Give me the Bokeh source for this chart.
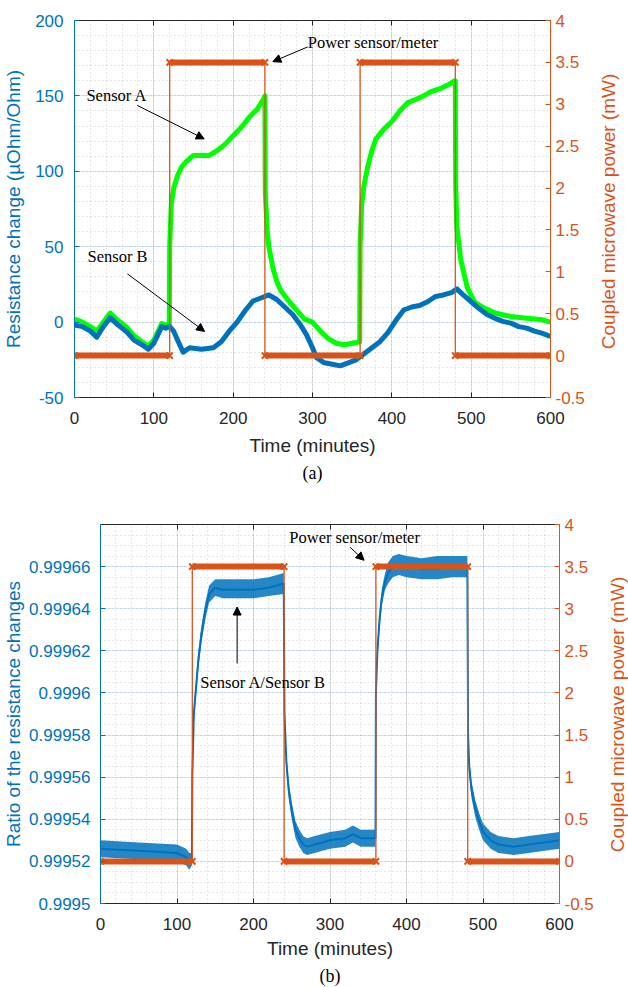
import math
from bokeh.plotting import figure
from bokeh.models import (Range1d, LinearAxis, SingleIntervalTicker, CustomJSTickFormatter,
                          Arrow, NormalHead, Label, Title, CustomLabelingPolicy)
from bokeh.core.properties import value
from bokeh.layouts import column, row
from bokeh.embed import file_html
from bokeh.resources import INLINE

# ---------------- data: panel (a) ----------------
t_b = [0, 10, 20, 28, 35, 45, 55, 65, 75, 85, 93, 100, 110, 115, 120, 125, 130, 137, 145, 160,
       175, 185, 195, 205, 215, 225, 235, 245, 255, 265, 275, 285, 292, 300, 305, 315, 325, 335,
       345, 355, 365, 375, 385, 395, 405, 415, 425, 435, 445, 455, 465, 475, 482, 490, 500, 510,
       520, 530, 540, 550, 560, 570, 580, 590, 600]
sensor_b = [-2, -3, -6, -10, -4, 3, -2, -6, -12, -15, -18, -14, -3, -4, -3, -6, -12, -20, -17, -18,
            -17, -13, -6, 0, 7.5, 14, 16, 18, 15, 10, 5, -2, -8, -17, -23.6, -27, -28, -29,
            -27, -25, -21, -17, -13, -7, 1, 8, 10, 11, 13.5, 17, 18, 19.5, 22, 18, 13.5, 9,
            5, 2.5, 0.5, -0.7, -3, -4, -6, -7.5, -9.5]

t_a = [0, 10, 20, 28, 35, 45, 55, 65, 75, 85, 93, 100, 110, 115, 119.5, 120, 122, 125, 130, 135,
       140, 150, 160, 170, 180, 190, 200, 210, 220, 230, 238, 240, 240.5, 243, 245, 250, 255, 260,
       270, 280, 290, 300, 310, 320, 330, 340, 350, 359.5, 360, 362, 365, 370, 375, 380, 390, 400,
       410, 420, 430, 440, 450, 460, 470, 478, 480, 480.5, 482, 487, 495, 504, 514, 530, 550, 570,
       590, 600]
sensor_a = [2, 0, -3, -6, -1, 6, 1, -3, -9, -13, -16, -12, -1, -2, -2, 50, 78, 88.6, 97.4, 102.8,
            106, 110.5, 110.5, 110.5, 113.8, 118, 123.6, 129, 135.6, 141, 147.6, 150, 85, 60, 50, 36, 27, 21,
            14, 8, 2, 0, -6, -11, -14, -15, -14, -13, 50, 78, 91, 104, 114, 121.5, 128, 133,
            140, 145.5, 147.6, 150, 153, 154.6, 157, 159.6, 160, 90, 63, 41, 23, 13.5, 10, 6, 3.7, 2.6,
            1.5, 0]

# coupled microwave power (mW), shared by both panels
t_p = [0, 120, 120, 240, 240, 360, 360, 480, 480, 600]
power = [0, 0, 3.5, 3.5, 0, 0, 3.5, 3.5, 0, 0]

# ---------------- data: panel (b) ----------------
t_r = [0, 50, 100, 112, 116, 119.5, 120, 122, 125, 128, 132, 137, 142, 150, 160, 180, 200, 220,
       239.5, 240.5, 243, 246, 250, 255, 260, 265, 270, 280, 290, 300, 320, 330, 340, 350, 359.5,
       360, 362, 365, 368, 372, 376, 382, 390, 400, 420, 440, 460, 479.5, 480.5, 482, 485, 490,
       495, 500, 510, 520, 540, 560, 580, 600]
ratio = [0.999526, 0.999525, 0.999524, 0.999522, 0.999520, 0.999521, 0.999560, 0.999590, 0.999603,
         0.999616, 0.999628, 0.999639, 0.999647, 0.999650, 0.999649, 0.999649, 0.999649, 0.999650,
         0.999652, 0.999590, 0.999567, 0.999554, 0.999544, 0.999535, 0.999531, 0.999528, 0.999527,
         0.999528, 0.999529, 0.999530, 0.999531, 0.999533, 0.999531, 0.999531, 0.999531,
         0.999600, 0.999620, 0.999636, 0.999646, 0.999653, 0.999657, 0.999660, 0.999661, 0.999660,
         0.999659, 0.999659, 0.999660, 0.999660, 0.999580, 0.999565, 0.999554, 0.999545,
         0.999539, 0.999534, 0.999530, 0.999528, 0.999527, 0.999528, 0.999529, 0.999530]
ratio_lo = [0.999522, 0.999521, 0.999520, 0.999518, 0.999516, 0.999518, 0.999555, 0.999586, 0.999599,
            0.999612, 0.999624, 0.999635, 0.999643, 0.999646, 0.999645, 0.999645, 0.999645, 0.999646,
            0.999647, 0.999585, 0.999563, 0.999550, 0.999540, 0.999531, 0.999527, 0.999524, 0.999523,
            0.999524, 0.999525, 0.999526, 0.999527, 0.999529, 0.999527, 0.999527, 0.999527,
            0.999595, 0.999616, 0.999632, 0.999642, 0.999649, 0.999652, 0.999655, 0.999656, 0.999655,
            0.999654, 0.999654, 0.999655, 0.999655, 0.999575, 0.999561, 0.999550, 0.999541,
            0.999535, 0.999530, 0.999526, 0.999524, 0.999523, 0.999524, 0.999525, 0.999526]
ratio_hi = [0.999530, 0.999529, 0.999528, 0.999526, 0.999524, 0.999524, 0.999565, 0.999594, 0.999607,
            0.999620, 0.999632, 0.999643, 0.999651, 0.999654, 0.999654, 0.999654, 0.999654, 0.999655,
            0.999657, 0.999595, 0.999571, 0.999558, 0.999548, 0.999539, 0.999535, 0.999532, 0.999531,
            0.999532, 0.999533, 0.999534, 0.999535, 0.999537, 0.999535, 0.999535, 0.999535,
            0.999605, 0.999624, 0.999640, 0.999650, 0.999657, 0.999662, 0.999665, 0.999666, 0.999665,
            0.999664, 0.999665, 0.999665, 0.999665, 0.999585, 0.999569, 0.999558, 0.999549,
            0.999543, 0.999538, 0.999534, 0.999532, 0.999531, 0.999532, 0.999533, 0.999534]

# ---------------- style ----------------
BLUE = "#0072BD"
ORANGE = "#D95319"
GREEN = "#00FF00"
DARK = "#262626"
SANS = "Liberation Sans"
SERIF = "Liberation Serif"
TICK_FS = "17px"
LAB_FS = "19px"
ANN_FS = "16.5px"
FMT = "return Number(tick.toFixed(5)).toString();"
RIGHT_LABEL = "Coupled microwave power (mW)"


def make_panel(width, height, borders, y_rng, y_interval, y_minor, y_label, y_std, x_std, caption):
    top, right, bottom, left = borders
    p = figure(width=width, height=height, x_range=Range1d(0, 600), y_range=Range1d(*y_rng),
               output_backend="svg", toolbar_location=None, tools="",
               min_border_top=top, min_border_right=right, min_border_bottom=bottom,
               min_border_left=left, background_fill_color="white", border_fill_color="white",
               frame_align=False)
    p.outline_line_color = None
    p.extra_y_ranges = {"pw": Range1d(-0.5, 4)}

    xt = SingleIntervalTicker(interval=100, num_minor_ticks=5)
    yt = SingleIntervalTicker(interval=y_interval, num_minor_ticks=y_minor)
    p.xaxis.ticker = xt
    p.xgrid.ticker = xt
    p.yaxis.ticker = yt
    p.ygrid.ticker = yt
    p.yaxis.formatter = CustomJSTickFormatter(code=FMT)

    # x axis
    ax = p.xaxis[0]
    ax.axis_label = "Time (minutes)"
    ax.axis_line_color = DARK
    ax.major_tick_line_color = DARK
    ax.major_tick_in = 5
    ax.major_tick_out = 0
    ax.minor_tick_line_color = None
    ax.major_label_text_color = DARK
    ax.major_label_text_font = SANS
    ax.major_label_text_font_size = TICK_FS
    ax.major_label_standoff = x_std[0]
    ax.axis_label_text_font = SANS
    ax.axis_label_text_font_size = LAB_FS
    ax.axis_label_text_font_style = "normal"
    ax.axis_label_text_color = DARK
    ax.axis_label_standoff = x_std[1]

    # left axis
    ay = p.yaxis[0]
    ay.axis_label = y_label
    ay.axis_line_color = BLUE
    ay.major_tick_line_color = BLUE
    ay.major_tick_in = 5
    ay.major_tick_out = 0
    ay.minor_tick_line_color = None
    ay.major_label_text_color = BLUE
    ay.major_label_text_font = SANS
    ay.major_label_text_font_size = TICK_FS
    ay.major_label_standoff = y_std[0]
    ay.axis_label_text_font = SANS
    ay.axis_label_text_font_size = LAB_FS
    ay.axis_label_text_font_style = "normal"
    ay.axis_label_text_color = BLUE
    ay.axis_label_standoff = y_std[1]

    # right axis (its title sits in a narrow strip next to the plot, reading bottom-to-top)
    ar = LinearAxis(y_range_name="pw", ticker=SingleIntervalTicker(interval=0.5, num_minor_ticks=0),
                    formatter=CustomJSTickFormatter(code=FMT))
    ar.axis_line_color = ORANGE
    ar.major_tick_line_color = ORANGE
    ar.major_tick_in = 5
    ar.major_tick_out = 0
    ar.minor_tick_line_color = None
    ar.major_label_text_color = ORANGE
    ar.major_label_text_font = SANS
    ar.major_label_text_font_size = TICK_FS
    ar.major_label_standoff = 5
    p.add_layout(ar, "right")

    # top box edge with inward ticks, no labels
    at = LinearAxis(ticker=xt, axis_label=None,
                    major_label_policy=CustomLabelingPolicy(code="return;"))
    at.axis_line_color = DARK
    at.major_tick_line_color = DARK
    at.major_tick_in = 5
    at.major_tick_out = 0
    at.minor_tick_line_color = None
    at.major_label_standoff = 0
    p.add_layout(at, "above")

    # grids
    p.xgrid.grid_line_color = DARK
    p.xgrid.grid_line_alpha = 0.13
    p.xgrid.minor_grid_line_color = DARK
    p.xgrid.minor_grid_line_alpha = 0.22
    p.xgrid.minor_grid_line_dash = "1 3"
    p.ygrid.grid_line_color = BLUE
    p.ygrid.grid_line_alpha = 0.15
    p.ygrid.minor_grid_line_color = DARK
    p.ygrid.minor_grid_line_alpha = 0.22
    p.ygrid.minor_grid_line_dash = "1 3"

    cap = Title(text=caption, align="center", text_font=SERIF, text_font_size="18px",
                text_font_style="normal", text_color="black", standoff=4)
    p.add_layout(cap, "below")
    return p


def side_label(width, height, x_px, y_px_from_bottom):
    s = figure(width=width, height=height, x_range=Range1d(0, width), y_range=Range1d(0, height),
               output_backend="svg", toolbar_location=None, tools="",
               x_axis_type=None, y_axis_type=None, min_border=0, frame_align=False)
    s.outline_line_color = None
    s.grid.visible = False
    s.text(x=[x_px], y=[y_px_from_bottom], text=[RIGHT_LABEL], angle=math.pi / 2,
           text_align="center", text_baseline="middle", text_font=value(SANS),
           text_font_size=value(LAB_FS), text_color=ORANGE)
    return s


def draw_power(p):
    p.line(t_p, power, y_range_name="pw", line_color=ORANGE, line_width=1.3)
    x0, x1, yy = [], [], []
    for i in range(len(t_p) - 1):
        if power[i] == power[i + 1]:
            x0.append(t_p[i]); x1.append(t_p[i + 1]); yy.append(power[i])
    p.segment(x0=x0, y0=yy, x1=x1, y1=yy, y_range_name="pw", line_color=ORANGE, line_width=6)
    p.scatter(x=x0 + x1, y=yy + yy, marker="x", size=9, line_width=2, line_color=ORANGE,
              y_range_name="pw")


def arrow(p, xs, ys, xe, ye):
    p.add_layout(Arrow(end=NormalHead(size=8, fill_color="black", line_color="black"),
                       x_start=xs, y_start=ys, x_end=xe, y_end=ye,
                       line_color="black", line_width=1))


def label(p, x, y, text):
    p.add_layout(Label(x=x, y=y, text=text, text_font=SERIF, text_font_size=ANN_FS,
                       text_color="black", text_baseline="middle", text_align="left"))


# ---------------- panel (a) ----------------
pa = make_panel(595, 484, (20, 45, 82, 73), (-50, 200), 50, 5,
                "Resistance change (\u00b5Ohm/Ohm)", (7, 8), (10, 8), "(a)")
pa.line(t_a, sensor_a, line_color=GREEN, line_width=5, line_join="round")
pa.line(t_b, sensor_b, line_color=BLUE, line_width=5, line_join="round")
draw_power(pa)
label(pa, 15, 150.3, "Sensor A")
arrow(pa, 79, 143.7, 163.5, 121.5)
label(pa, 16.4, 43.3, "Sensor B")
arrow(pa, 66.7, 32, 164, -6.2)
label(pa, 294, 185.6, "Power sensor/meter")
arrow(pa, 294, 182.5, 250, 172.7)
sa = side_label(33, 484, 13, 484 - 211)

# ---------------- panel (b) ----------------
pb = make_panel(604, 503, (40, 45, 83, 99), (0.9995, 0.99968), 0.00002, 4,
                "Ratio of the resistance changes", (6, 2), (10, 5), "(b)")
pb.varea(x=t_r, y1=ratio_lo, y2=ratio_hi, fill_color=BLUE, fill_alpha=0.85)
pb.line(t_r, ratio, line_color=BLUE, line_width=2)
draw_power(pb)
label(pb, 246.8, 0.9996736, "Power sensor/meter")
arrow(pb, 326.3, 0.9996692, 344.6, 0.999663)
label(pb, 130.4, 0.9996049, "Sensor A/Sensor B")
arrow(pb, 178.6, 0.999614, 178.6, 0.9996408)
sb = side_label(24, 503, 13, 503 - 230)

layout = column(row(pa, sa, spacing=0), row(pb, sb, spacing=0), spacing=0)
open("out.html", "w").write(file_html(layout, INLINE))
